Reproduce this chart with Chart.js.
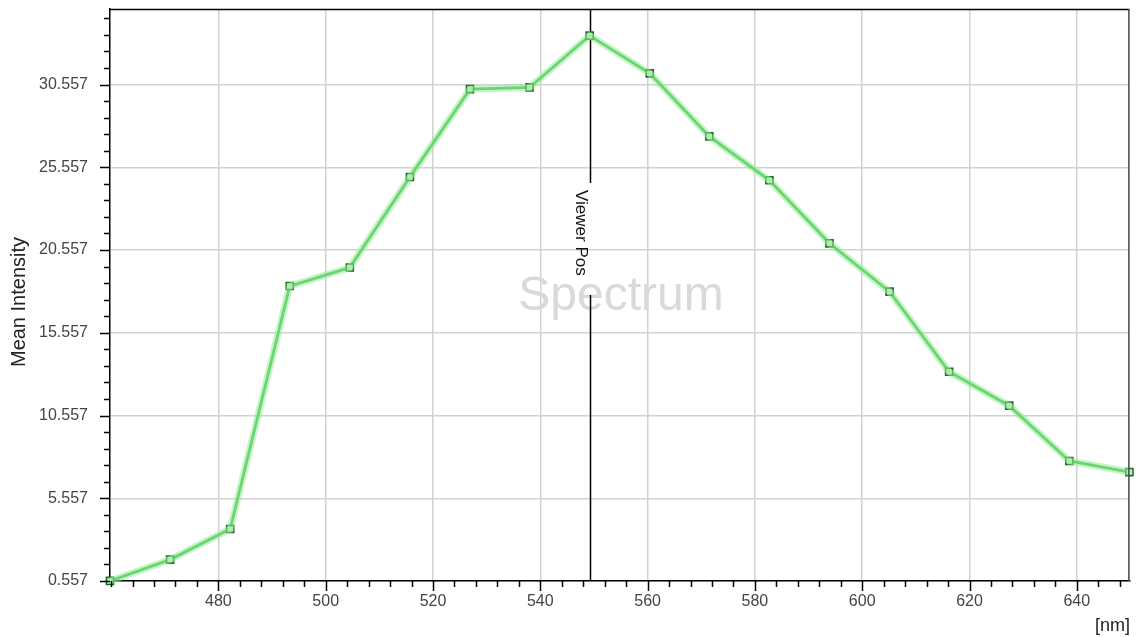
<!DOCTYPE html>
<html>
<head>
<meta charset="utf-8">
<script src="https://cdn.jsdelivr.net/npm/chart.js@4.4.1/dist/chart.umd.min.js"></script>
<style>
  html, body { margin: 0; padding: 0; background: #fff; }
  #wrap { width: 1136px; height: 637px; position: relative; }
</style>
</head>
<body>
<div id="wrap"><canvas id="spectrumChart"></canvas></div>
<script>
// spectrum values
const wavelengths = [459.8, 471.0, 482.2, 493.3, 504.5, 515.7, 526.9, 538.0, 549.2, 560.4, 571.5, 582.7, 593.9, 605.1, 616.2, 627.4, 638.6, 649.8];
const intensity = [0.56, 1.85, 3.70, 18.38, 19.50, 24.97, 30.28, 30.38, 33.51, 31.23, 27.42, 24.77, 20.96, 18.04, 13.20, 11.15, 7.81, 7.14];
const yTickLabels = ['0.557', '5.557', '10.557', '15.557', '20.557', '25.557', '30.557'];
const xTickLabels = ['480', '500', '520', '540', '560', '580', '600', '620', '640'];
const xMin = 459.8, xMax = 649.8;
const yMin = 0.557, yMax = 35.12;
const viewerPos = 549.2;

const FONT = "'Liberation Sans', Arial, sans-serif";

// minor ticks: 1 unit on y, 4 nm on x
const yTickValues = [];
for (let i = 0; i <= 34; i++) yTickValues.push(Number((0.557 + i).toFixed(3)));
const xTickValues = [];
for (let v = 460; v <= 648; v += 4) xTickValues.push(v);

const points = wavelengths.map((w, i) => ({ x: w, y: intensity[i] }));

const isMajorY = v => yTickLabels.includes(v.toFixed(3));
const isMajorX = v => xTickLabels.includes(String(v));

const decor = {
  id: 'decor',
  beforeDatasetsDraw(chart) {
    const { ctx, chartArea: a, scales: { x } } = chart;
    ctx.save();
    // watermark
    ctx.fillStyle = '#d9d9d9';
    ctx.font = '48px ' + FONT;
    ctx.textAlign = 'center';
    ctx.textBaseline = 'alphabetic';
    ctx.fillText('Spectrum', 621, 310);
    // viewer position marker
    const px = Math.round(x.getPixelForValue(viewerPos)) + 0.5;
    ctx.strokeStyle = '#000';
    ctx.lineWidth = 1.5;
    ctx.beginPath();
    ctx.moveTo(px, a.top);
    ctx.lineTo(px, 183);
    ctx.moveTo(px, 295);
    ctx.lineTo(px, a.bottom);
    ctx.stroke();
    ctx.translate(px - 15, 190);
    ctx.rotate(Math.PI / 2);
    ctx.fillStyle = '#111';
    ctx.font = '17px ' + FONT;
    ctx.textAlign = 'left';
    ctx.fillText('Viewer Pos', 0, 0);
    ctx.restore();
  },
  afterDraw(chart) {
    const { ctx, chartArea: a, scales: { x, y } } = chart;
    ctx.save();
    ctx.strokeStyle = '#000';
    ctx.lineWidth = 1.5;
    ctx.beginPath();
    yTickValues.forEach(v => {
      const py = Math.round(y.getPixelForValue(v)) + 0.5;
      ctx.moveTo(a.left - (isMajorY(v) ? 10 : 6), py);
      ctx.lineTo(a.left, py);
    });
    xTickValues.forEach(v => {
      const px = Math.round(x.getPixelForValue(v)) + 0.5;
      ctx.moveTo(px, a.bottom);
      ctx.lineTo(px, a.bottom + (isMajorX(v) ? 10 : 6));
    });
    ctx.stroke();
    // top and right frame
    ctx.beginPath();
    ctx.moveTo(a.left, a.top + 0.5);
    ctx.lineTo(a.right, a.top + 0.5);
    ctx.stroke();
    ctx.strokeStyle = '#444';
    ctx.lineWidth = 1.5;
    ctx.beginPath();
    ctx.moveTo(a.right - 0.5, a.top);
    ctx.lineTo(a.right - 0.5, a.bottom);
    ctx.stroke();
    // axis titles
    ctx.fillStyle = '#222';
    ctx.font = '18px ' + FONT;
    ctx.textAlign = 'right';
    ctx.textBaseline = 'alphabetic';
    ctx.fillText('[nm]', 1130, 631);
    ctx.font = '20px ' + FONT;
    ctx.translate(25, 302);
    ctx.rotate(-Math.PI / 2);
    ctx.textAlign = 'center';
    ctx.fillText('Mean Intensity', 0, 0);
    ctx.restore();
  }
};

new Chart(document.getElementById('spectrumChart'), {
  type: 'line',
  data: {
    datasets: [
      {
        // soft halo under the line
        data: points,
        borderColor: 'rgba(150, 235, 150, 0.55)',
        borderWidth: 7,
        pointRadius: 0,
        tension: 0,
        clip: 6,
      },
      {
        data: points,
        borderColor: '#38bb4b',
        borderWidth: 2.8,
        pointStyle: 'rect',
        pointRadius: 5,
        pointBorderWidth: 1.6,
        pointBorderColor: '#1d6e29',
        pointBackgroundColor: '#c9f3c4',
        tension: 0,
        clip: 6,
      },
    ],
  },
  options: {
    responsive: true,
    maintainAspectRatio: false,
    animation: false,
    layout: { padding: { top: 9, right: -3, left: 0, bottom: 0 } },
    plugins: { legend: { display: false }, tooltip: { enabled: false } },
    scales: {
      x: {
        type: 'linear',
        min: xMin,
        max: xMax,
        afterBuildTicks: s => { s.ticks = xTickValues.map(v => ({ value: v })); },
        afterFit: s => { s.height = 56; s.paddingLeft = 0; s.paddingRight = 0; },
        ticks: {
          autoSkip: false,
          maxRotation: 0,
          padding: 11,
          color: '#444',
          font: { family: FONT, size: 16 },
          callback: v => (isMajorX(v) ? String(v) : ''),
        },
        grid: {
          drawTicks: false,
          color: c => (c.tick && isMajorX(c.tick.value) ? '#d2d2d2' : 'rgba(0,0,0,0)'),
          lineWidth: 1.5,
        },
        border: { display: true, color: '#000', width: 1.5 },
      },
      y: {
        type: 'linear',
        min: yMin,
        max: yMax,
        afterBuildTicks: s => { s.ticks = yTickValues.map(v => ({ value: v })); },
        afterFit: s => { s.width = 110; s.paddingTop = 0; s.paddingBottom = 0; },
        ticks: {
          autoSkip: false,
          padding: 22,
          color: '#444',
          font: { family: FONT, size: 16 },
          callback: v => (isMajorY(v) ? v.toFixed(3) : ''),
        },
        grid: {
          drawTicks: false,
          color: c => (c.tick && isMajorY(c.tick.value) ? '#d2d2d2' : 'rgba(0,0,0,0)'),
          lineWidth: 1.5,
        },
        border: { display: true, color: '#000', width: 1.5 },
      },
    },
  },
  plugins: [decor],
});
</script>
</body>
</html>
